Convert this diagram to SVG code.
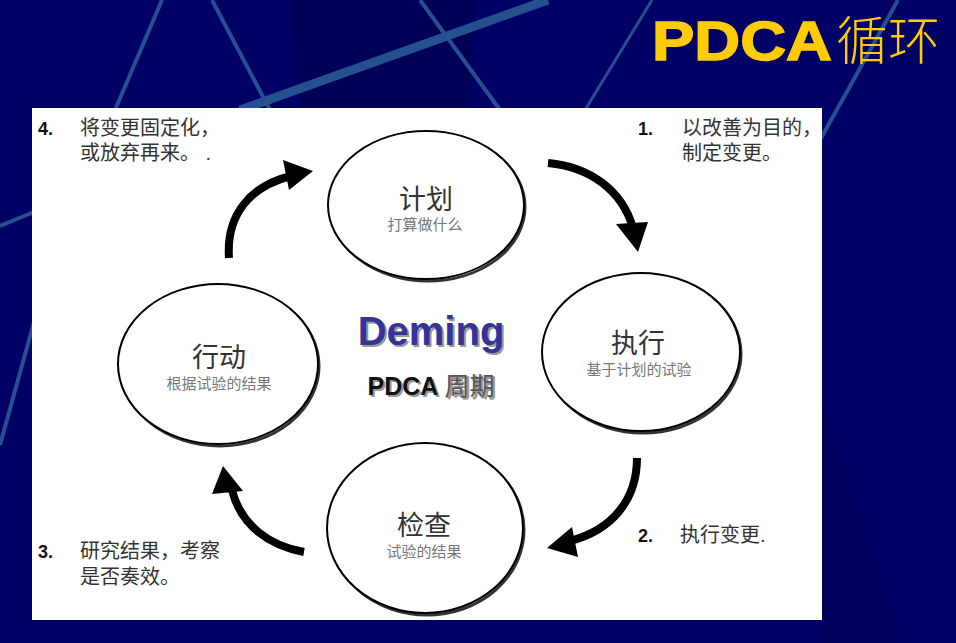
<svg xmlns="http://www.w3.org/2000/svg" width="956" height="643" viewBox="0 0 956 643">
<defs>
<style>
.stripe{stroke:#24508f;fill:none}
.ell{fill:#fff;stroke:#000;stroke-width:2}
.shd{fill:none;stroke:#333;stroke-width:3}
.t1{font-family:"Noto Sans CJK SC",sans-serif;font-size:27px;fill:#333;text-anchor:middle}
.t2{font-family:"Noto Sans CJK SC",sans-serif;font-size:15px;fill:#777;text-anchor:middle}
.num{font-family:"Liberation Sans",Arial,sans-serif;font-weight:bold;font-size:18px;fill:#111}
.note{font-family:"Liberation Sans","Noto Sans CJK SC",sans-serif;font-size:20px;fill:#333}
.arr{fill:none;stroke:#000;stroke-width:8}
</style>
</defs>
<rect width="956" height="643" fill="#000066"/>
<polygon points="290,0 475,0 470,110 300,110" fill="#000050" opacity="0.6"/>
<polygon points="822,400 900,643 822,643" fill="#00005a" opacity="0.6"/>
<g id="background-stripes">
<line class="stripe" x1="162" y1="0" x2="115" y2="110" stroke-width="4"/>
<line class="stripe" x1="212" y1="0" x2="270" y2="110" stroke-width="4"/>
<line class="stripe" x1="420" y1="0" x2="500" y2="110" stroke-width="4"/>
<line class="stripe" x1="548" y1="0" x2="240" y2="110" stroke-width="9" stroke="#2a5f9e"/>
<line class="stripe" x1="652" y1="0" x2="585" y2="110" stroke-width="3"/>
<line class="stripe" x1="898" y1="0" x2="820" y2="140" stroke-width="4"/>
<line class="stripe" x1="0" y1="226" x2="34" y2="212" stroke-width="4"/>
<line class="stripe" x1="0" y1="445" x2="34" y2="322" stroke-width="4"/>
</g>
<g id="title">
<text x="652" y="60" textLength="180" lengthAdjust="spacingAndGlyphs" font-family="'Liberation Sans',Arial,sans-serif" font-weight="900" font-size="56" fill="#ffcc00" stroke="#ffcc00" stroke-width="1.5">PDCA</text>
<text x="836" y="60" font-family="'Noto Sans CJK SC',sans-serif" font-weight="300" font-size="52" fill="#ffcc00">循环</text>
</g>
<rect id="panel" x="32" y="108" width="790" height="512" fill="#fff"/>
<g id="connectors">
<path class="arr" d="M229,258 C226,215 250,186 291,176"/>
<polygon points="283,160 313,171 289,190"/>
<path class="arr" d="M548,163 C590,167 622,190 633,228"/>
<polygon points="616,224 638,252 648,222"/>
<path class="arr" d="M637,458 C637,500 612,530 570,541"/>
<polygon points="572,527 547,548 578,557"/>
<path class="arr" d="M304,552 C270,546 241,526 232,490"/>
<polygon points="212,494 223,466 243,491"/>
</g>
<g id="plan">
<ellipse class="shd" cx="428" cy="207" rx="97" ry="74"/>
<ellipse class="ell" cx="426" cy="205" rx="98" ry="74"/>
<text class="t1" x="426" y="209">计划</text>
<text class="t2" x="425" y="230">打算做什么</text>
</g>
<g id="do">
<ellipse class="shd" cx="643" cy="354" rx="98" ry="79"/>
<ellipse class="ell" cx="641" cy="352" rx="99" ry="79"/>
<text class="t1" x="638" y="353">执行</text>
<text class="t2" x="639" y="375">基于计划的试验</text>
</g>
<g id="act">
<ellipse class="shd" cx="220" cy="366" rx="99" ry="80"/>
<ellipse class="ell" cx="218" cy="364" rx="100" ry="80"/>
<text class="t1" x="219" y="367">行动</text>
<text class="t2" x="219" y="389">根据试验的结果</text>
</g>
<g id="check">
<ellipse class="shd" cx="427" cy="530" rx="97" ry="85"/>
<ellipse class="ell" cx="425" cy="528" rx="98" ry="85"/>
<text class="t1" x="424" y="535">检查</text>
<text class="t2" x="424" y="557">试验的结果</text>
</g>
<g id="center-label">
<text x="433" y="347" text-anchor="middle" font-family="'Liberation Sans',Arial,sans-serif" font-weight="bold" font-size="40" fill="#999">Deming</text>
<text x="431" y="345" text-anchor="middle" font-family="'Liberation Sans',Arial,sans-serif" font-weight="bold" font-size="40" fill="#333399">Deming</text>
<text x="433" y="397" text-anchor="middle" font-family="'Liberation Sans','Noto Sans CJK SC',sans-serif" font-weight="bold" font-size="25" fill="#999">PDCA 周期</text>
<text x="431" y="395" text-anchor="middle" font-family="'Liberation Sans','Noto Sans CJK SC',sans-serif" font-weight="bold" font-size="25" fill="#111">PDCA <tspan fill="#555" font-weight="normal">周期</tspan></text>
</g>
<g id="notes">
<text class="num" x="38" y="135">4.</text>
<text class="note" x="80" y="135">将变更固定化，</text>
<text class="note" x="80" y="160">或放弃再来。  .</text>
<text class="num" x="638" y="135">1.</text>
<text class="note" x="682" y="135">以改善为目的，</text>
<text class="note" x="682" y="160">制定变更。</text>
<text class="num" x="638" y="542">2.</text>
<text class="note" x="680" y="542">执行变更.</text>
<text class="num" x="38" y="558">3.</text>
<text class="note" x="80" y="558">研究结果，考察</text>
<text class="note" x="80" y="584">是否奏效。</text>
</g>
</svg>
